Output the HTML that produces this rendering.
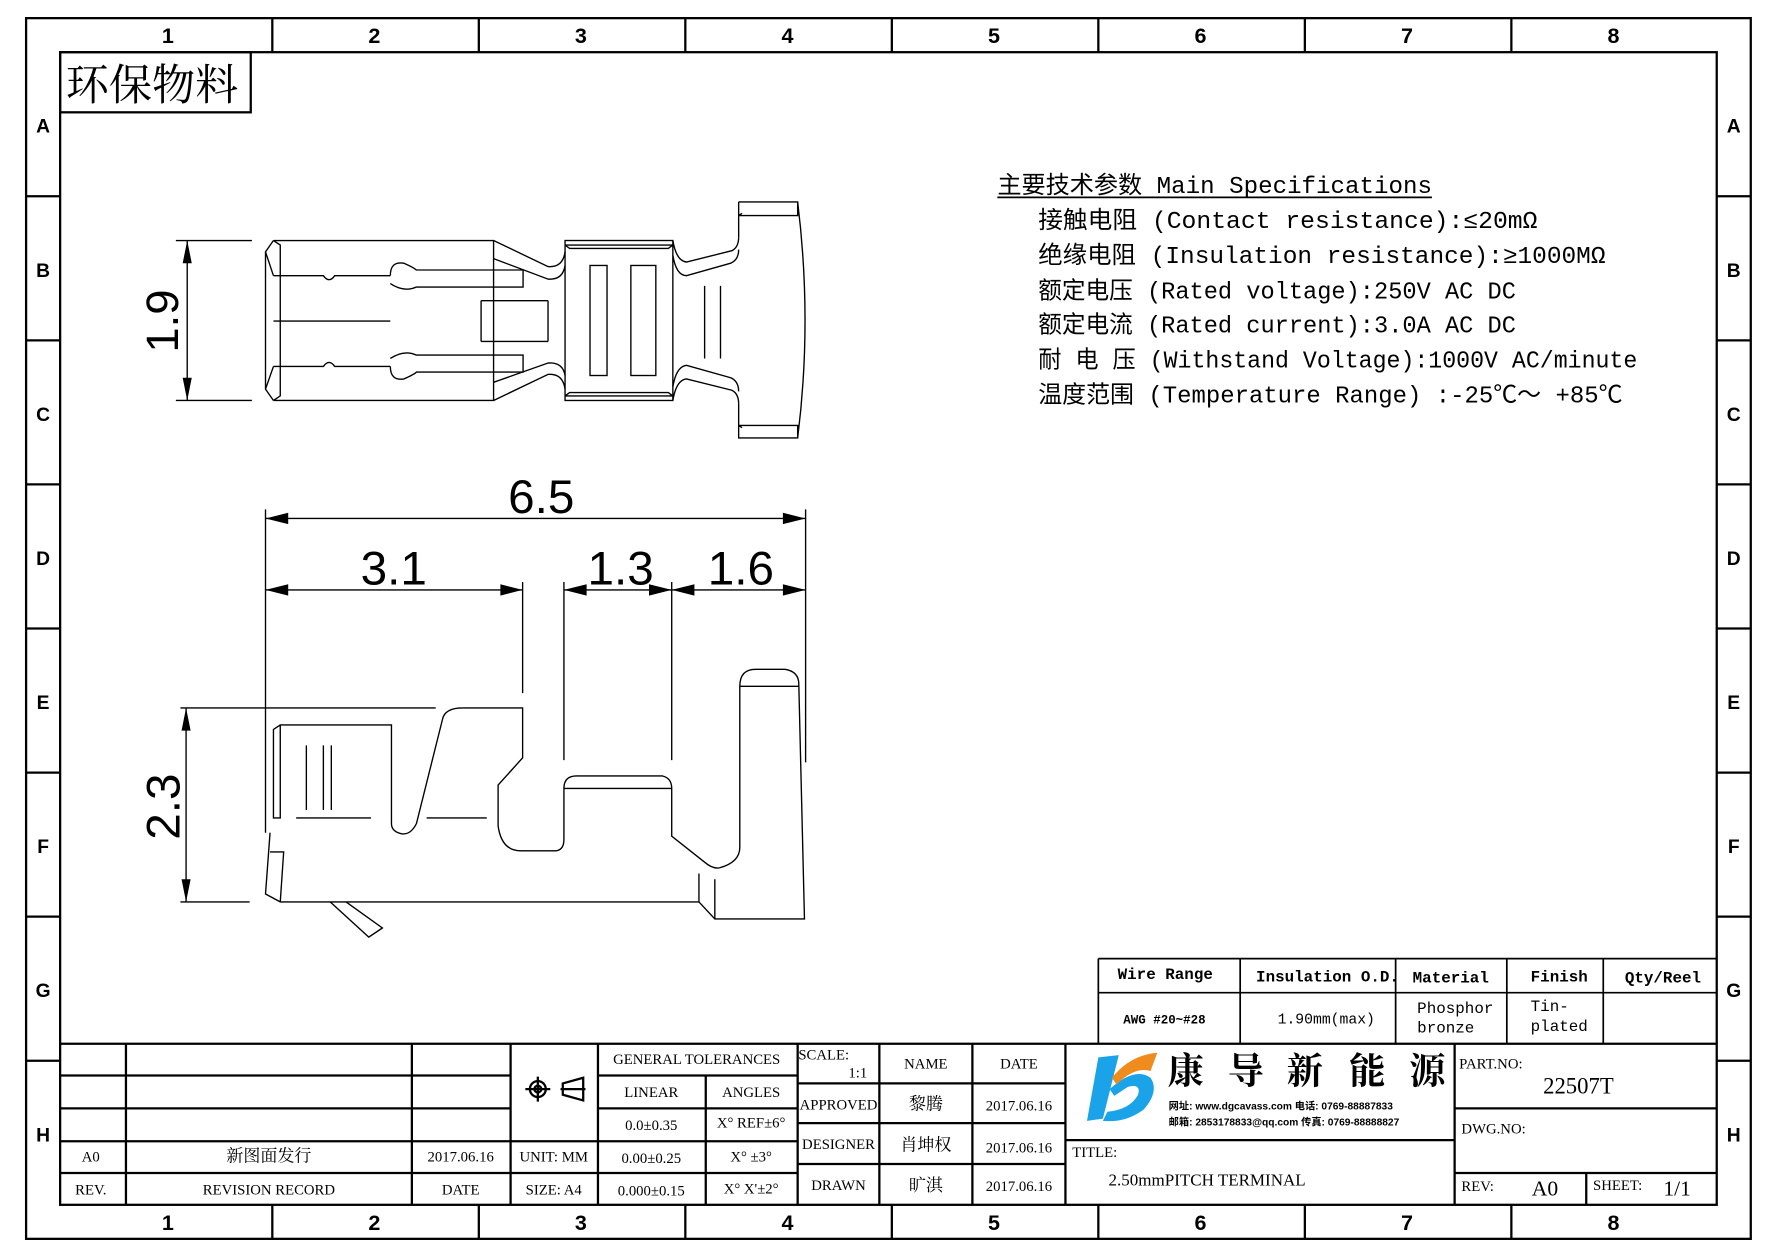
<!DOCTYPE html>
<html><head><meta charset="utf-8"><style>
html,body{margin:0;padding:0;background:#fff;}
svg{display:block;}
text{font-family:"Liberation Serif","Noto Serif CJK SC",serif;fill:#000;}
.m text,text.m{font-family:"Liberation Mono","Noto Sans CJK SC",monospace;}
.s text,text.s{font-family:"Liberation Sans","Noto Sans CJK SC",sans-serif;}
</style></head><body>
<svg width="1778" height="1257" viewBox="0 0 1567 1108" preserveAspectRatio="none" xmlns="http://www.w3.org/2000/svg">
<rect x="0" y="0" width="1567" height="1108" fill="#fff"/>
<g fill="none" stroke="#000" stroke-width="2">
<rect x="23" y="16" width="1520" height="1076"/>
<rect x="53" y="46" width="1460" height="1016"/>
<path d="M240 16V46M422 16V46M604 16V46M786 16V46M968 16V46M1150 16V46M1332 16V46"/>
<path d="M240 1062V1092M422 1062V1092M604 1062V1092M786 1062V1092M968 1062V1092M1150 1062V1092M1332 1062V1092"/>
<path d="M23 173H53M23 300H53M23 427H53M23 554H53M23 681H53M23 808H53M23 935H53"/>
<path d="M1513 173H1543M1513 300H1543M1513 427H1543M1513 554H1543M1513 681H1543M1513 808H1543M1513 935H1543"/>
<rect x="53" y="46" width="168" height="53"/>
</g>
<g class="s" font-size="19" text-anchor="middle" font-weight="bold">
<text x="148" y="38">1</text><text x="330" y="38">2</text><text x="512" y="38">3</text><text x="694" y="38">4</text><text x="876" y="38">5</text><text x="1058" y="38">6</text><text x="1240" y="38">7</text><text x="1422" y="38">8</text>
<text x="148" y="1084">1</text><text x="330" y="1084">2</text><text x="512" y="1084">3</text><text x="694" y="1084">4</text><text x="876" y="1084">5</text><text x="1058" y="1084">6</text><text x="1240" y="1084">7</text><text x="1422" y="1084">8</text>
<text x="38" y="117" font-size="17">A</text><text x="38" y="244" font-size="17">B</text><text x="38" y="371" font-size="17">C</text><text x="38" y="498" font-size="17">D</text><text x="38" y="625" font-size="17">E</text><text x="38" y="752" font-size="17">F</text><text x="38" y="879" font-size="17">G</text><text x="38" y="1006" font-size="17">H</text>
<text x="1528" y="117" font-size="17">A</text><text x="1528" y="244" font-size="17">B</text><text x="1528" y="371" font-size="17">C</text><text x="1528" y="498" font-size="17">D</text><text x="1528" y="625" font-size="17">E</text><text x="1528" y="752" font-size="17">F</text><text x="1528" y="879" font-size="17">G</text><text x="1528" y="1006" font-size="17">H</text>
</g>
<text x="58" y="88" font-size="38" font-family="'Noto Serif CJK SC',serif">环保物料</text>

<!-- top view -->
<g fill="none" stroke="#000" stroke-width="1.2">
<path d="M155 212H222M155 353H222M165 212V353"/>
<path d="M241 212H435V353H241M241 212L234 222L241 243M241 353L234 343L241 323M234 222V343M241 212L247 216V349L241 353M241 243H285Q290 250 295 243H344M241 323H285Q290 316 295 323H344M241 283H344"/>
<path d="M344 243Q344 230 356 232Q365 236 367 238H461V253H367Q356 258 344 250"/>
<path d="M344 323Q344 336 356 334Q365 330 367 328H461V313H367Q356 308 344 316"/>
<path d="M424 265H483M424 301H483M424 265V301M483 265V301"/>
<path d="M435 212L483 235Q496 236 498 222M435 228L483 246Q496 247 498 234M435 353L483 330Q496 329 498 343M435 337L483 320Q496 319 498 331"/>
<rect x="498" y="212" width="95" height="141"/>
<path d="M498 216H593M498 349H593M498 216L502 219H589L593 216M498 349L502 346H589L593 349"/>
<rect x="520" y="234" width="15" height="97"/><rect x="556" y="234" width="22" height="97"/>
<path d="M593 212Q596 230 605 231L645 221Q651 218 651 209M593 225Q596 243 605 243L644 232Q651 229 651 220"/>
<path d="M593 353Q596 335 605 334L645 344Q651 347 651 356M593 341Q596 323 605 322L644 333Q651 336 651 345"/>
<path d="M621 252V316M635 252V316"/>
<path d="M651 178H703V190H651M651 178V209M651 356V386H703V375H651M703 178Q716 283 703 386M651 190L654 188M651 375L654 377"/>
</g>
<path d="M165 212L161 232H169ZM165 353L161 333H169Z" fill="#000"/>
<text x="143" y="283" font-size="40" class="s" text-anchor="middle" transform="rotate(-90 143 283)" dy="14">1.9</text>

<!-- side view -->
<g fill="none" stroke="#000" stroke-width="1.2">
<path d="M234 449V734M460.6 513V611M497 513V670M592 513V670M710 449V672"/>
<path d="M234 457H710M234 520H460.6M497 520H710"/>
<path d="M159 624H384M159 795H220M164 624V795"/>
<path d="M408 624H460.6V668L439 692V728Q442 750 459 750H490Q497 749 497 740V695M497 695Q497 684 508 684H584Q592 686 592 695V737L621 760Q628 766 634 765Q652 760 652 747V605Q652 590 666 590H692Q704 592 704 603L709 810H630L616 795H247L234 788L238 734"/>
<path d="M497 695H592M652 605H704"/>
<path d="M408 624Q392 624 390 634L367 726Q362 736 354 735Q345 733 345 726V639H247L241 643V721H247V639M261 721H327M376 721H429"/>
<path d="M270 657V714M285 657V714M292 657V714"/>
<path d="M238 751H250L247 795"/>
<path d="M616 770V795M630 775V810"/>
<path d="M291 795L325 826L337 818L305 795"/>
</g>
<g fill="#000">
<path d="M234 457L254 452V462ZM710 457L690 452V462Z"/>
<path d="M234 520L254 515V525ZM460.6 520L441 515V525Z"/>
<path d="M497 520L517 515V525ZM592 520L572 515V525ZM592 520L612 515V525ZM710 520L690 515V525Z"/>
<path d="M164 624L160 644H168ZM164 795L160 775H168Z"/>
</g>
<g class="s" font-size="42" text-anchor="middle">
<text x="477" y="452">6.5</text>
<text x="347" y="515">3.1</text>
<text x="547" y="515">1.3</text>
<text x="653" y="515">1.6</text>
<text x="143" y="711" transform="rotate(-90 143 711)" dy="15">2.3</text>
</g>

<!-- specs -->
<g font-size="21" class="m" lengthAdjust="spacingAndGlyphs">
<text x="879" y="170" textLength="383" lengthAdjust="spacingAndGlyphs">主要技术参数 Main Specifications</text>
<text x="915" y="201" textLength="440" lengthAdjust="spacingAndGlyphs">接触电阻 (Contact resistance):≤20mΩ</text>
<text x="915" y="232" textLength="500" lengthAdjust="spacingAndGlyphs">绝缘电阻 (Insulation resistance):≥1000MΩ</text>
<text x="915" y="263" textLength="421" lengthAdjust="spacingAndGlyphs">额定电压 (Rated voltage):250V AC DC</text>
<text x="915" y="293" textLength="421" lengthAdjust="spacingAndGlyphs">额定电流 (Rated current):3.0A AC DC</text>
<text x="915" y="324" textLength="528" lengthAdjust="spacingAndGlyphs">耐 电 压 (Withstand Voltage):1000V AC/minute</text>
<text x="915" y="355" textLength="515" lengthAdjust="spacingAndGlyphs">温度范围 (Temperature Range) :-25℃～ +85℃</text>
</g>
<path d="M879 174H1262" stroke="#000" stroke-width="1.5"/>

<!-- spec table -->
<g fill="none" stroke="#000" stroke-width="1.5">
<path d="M968 845H1513M968 875H1513M968 845V920M1093 845V920M1230 845V920M1328 845V920M1413 845V920"/>
</g>
<g font-size="14" class="m" font-weight="bold">
<text x="985" y="863">Wire Range</text>
<text x="1107" y="865">Insulation O.D.</text>
<text x="1245" y="866">Material</text>
<text x="1349" y="865">Finish</text>
<text x="1432" y="866">Qty/Reel</text>
<text x="990" y="902" font-size="11">AWG #20~#28</text>
<text x="1126" y="902" font-size="13" font-weight="normal">1.90mm(max)</text>
<text x="1249" y="893" font-weight="normal">Phosphor</text>
<text x="1249" y="910" font-weight="normal">bronze</text>
<text x="1349" y="891" font-weight="normal">Tin-</text>
<text x="1349" y="909" font-weight="normal">plated</text>
</g>

<!-- title block -->
<g fill="none" stroke="#000" stroke-width="2">
<path d="M53 920H1513"/>
<path d="M53 948H450M53 977H450M53 1006H450M53 1034H703"/>
<path d="M450 1006H703M527 948H703M527 977H703"/>
<path d="M703 955H939M703 990H939M703 1026H939"/>
<path d="M939 1005H1282M1282 977H1513M1282 1034H1513"/>
<path d="M111 920V1062M363 920V1062M450 920V1062M527 920V1062M622 948V1062M703 920V1062M775 920V1062M857 920V1062M939 920V1062M1282 920V1062M1398 1034V1062"/>
</g>
<g font-size="13" text-anchor="middle">
<text x="80" y="1024">A0</text><text x="237" y="1024" font-size="15">新图面发行</text><text x="406" y="1024">2017.06.16</text>
<text x="80" y="1053">REV.</text><text x="237" y="1053">REVISION RECORD</text><text x="406" y="1053">DATE</text>
<text x="488" y="1024">UNIT: MM</text><text x="488" y="1053">SIZE: A4</text>
<text x="614" y="938">GENERAL TOLERANCES</text>
<text x="574" y="967">LINEAR</text><text x="662" y="967">ANGLES</text>
<text x="574" y="996">0.0±0.35</text><text x="662" y="994">X° REF±6°</text>
<text x="574" y="1025">0.00±0.25</text><text x="662" y="1024">X° ±3°</text>
<text x="574" y="1054">0.000±0.15</text><text x="662" y="1052">X° X'±2°</text>
<text x="726" y="934">SCALE:</text><text x="756" y="950">1:1</text>
<text x="816" y="942">NAME</text><text x="898" y="942">DATE</text>
<text x="739" y="978">APPROVED</text><text x="816" y="978" font-size="15">黎腾</text><text x="898" y="979">2017.06.16</text>
<text x="739" y="1013">DESIGNER</text><text x="816" y="1014" font-size="15">肖坤权</text><text x="898" y="1016">2017.06.16</text>
<text x="739" y="1049">DRAWN</text><text x="816" y="1050" font-size="15">旷淇</text><text x="898" y="1050">2017.06.16</text>
</g>
<g fill="none" stroke="#000" stroke-width="2">
<circle cx="474" cy="960" r="7"/><circle cx="474" cy="960" r="3"/><path d="M463 960H485M474 949V971M494 960H516M496 955L514 950V970L496 965Z"/>
</g>
<!-- logo -->
<path d="M968 932L986 930L972 986L958 988Z" fill="#1aa3e8"/>
<path d="M978 960Q1000 940 1014 950Q1022 962 1008 978Q992 990 972 988L976 980Q996 978 1003 965Q1006 955 994 958L982 966Z" fill="#1aa3e8"/>
<path d="M980 950Q996 930 1020 928L1014 944Q1000 940 984 956Z" fill="#f08c1e"/>
<g font-size="32" font-family="'Noto Serif CJK SC',serif" font-weight="bold" text-anchor="middle">
<text x="1045" y="955">康</text><text x="1098" y="955">导</text><text x="1150" y="955">新</text><text x="1205" y="955">能</text><text x="1258" y="955">源</text>
</g>
<g font-size="9" font-weight="bold" class="s">
<text x="1030" y="978">网址: www.dgcavass.com   电话: 0769-88887833</text>
<text x="1030" y="992">邮箱: 2853178833@qq.com 传真: 0769-88888827</text>
</g>
<g font-size="13">
<text x="945" y="1020">TITLE:</text>
<text x="977" y="1045" font-size="15">2.50mmPITCH TERMINAL</text>
<text x="1286" y="942">PART.NO:</text>
<text x="1360" y="964" font-size="20">22507T</text>
<text x="1288" y="999">DWG.NO:</text>
<text x="1288" y="1050">REV:</text>
<text x="1350" y="1054" font-size="19">A0</text>
<text x="1404" y="1049">SHEET:</text>
<text x="1466" y="1054" font-size="19">1/1</text>
</g>
</svg>
</body></html>
